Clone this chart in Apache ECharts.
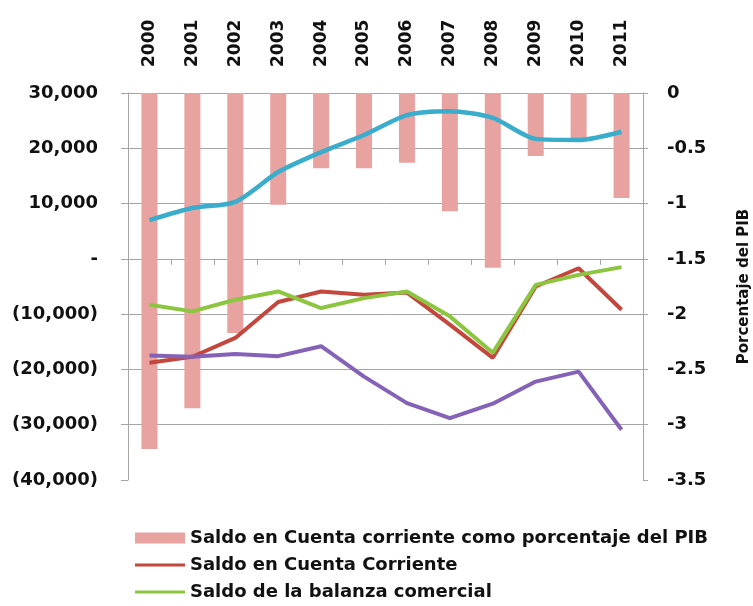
<!DOCTYPE html>
<html>
<head>
<meta charset="utf-8">
<script src="https://cdn.jsdelivr.net/npm/echarts@6/dist/echarts.min.js"></script>
<style>html,body{margin:0;padding:0;background:#fff;}#c{width:753px;height:606px;}</style>
</head>
<body>
<div id="c"></div>
<script>
const years = ['2000','2001','2002','2003','2004','2005','2006','2007','2008','2009','2010','2011'];
const pctPIB = [-3.22, -2.85, -2.17, -1.01, -0.68, -0.68, -0.63, -1.07, -1.58, -0.57, -0.42, -0.95];
const cuentaCorriente = [-18800, -17700, -14300, -7800, -5900, -6500, -6100, -11900, -17900, -5000, -1700, -9200];
const balanzaComercial = [-8300, -9500, -7400, -5900, -8900, -7100, -5900, -10400, -17000, -4700, -2900, -1500];
const serieAzul = [7000, 9200, 10300, 15700, 19300, 22400, 26000, 26700, 25500, 21700, 21500, 23000];
const serieMorada = [-17500, -17700, -17200, -17600, -15800, -21300, -26100, -28800, -26200, -22200, -20400, -30900];
const leftTicks = {min: -40000, max: 30000, interval: 10000};
const rightTicks = {min: -3.5, max: 0, interval: 0.5};
const names = ['Saldo en Cuenta corriente como porcentaje del PIB', 'Saldo en Cuenta Corriente', 'Saldo de la balanza comercial'];

const FONT = 'DejaVu Sans';
const grayLine = '#a6a6a6';
function fmtLeft(v){
  if (v === 0) return '-';
  const s = Math.abs(v).toLocaleString('en-US');
  return v < 0 ? '(' + s + ')' : s;
}
const lineIcon = 'path://M0,0 L50,0 L50,3 L0,3 Z';
const chart = echarts.init(document.getElementById('c'), null, {renderer: 'canvas'});
chart.setOption({
  animation: false,
  backgroundColor: '#ffffff',
  grid: {left: 128, right: 110, top: 93, bottom: 126, containLabel: false, outerBoundsMode: 'none'},
  legend: {
    data: [
      {name: names[0], icon: 'rect'},
      {name: names[1], icon: lineIcon},
      {name: names[2], icon: lineIcon}
    ],
    orient: 'vertical',
    left: 135, top: 529, padding: 0,
    itemWidth: 50, itemHeight: 11, itemGap: 9, symbolKeepAspect: true,
    textStyle: {fontFamily: FONT, fontWeight: 'bold', fontSize: 18, lineHeight: 18, color: '#111'}
  },
  xAxis: [
    {
      type: 'category', data: years, position: 'bottom',
      axisLine: {onZero: true, onZeroAxisIndex: 0, lineStyle: {color: grayLine, width: 1}},
      axisTick: {show: true, length: 6, lineStyle: {color: grayLine}},
      axisLabel: {show: false},
      splitLine: {show: false}
    },
    {
      type: 'category', data: years, position: 'top',
      axisLine: {show: false}, axisTick: {show: false},
      axisLabel: {rotate: 90, margin: 26, padding: [6, 0, 0, 0], fontFamily: FONT, fontWeight: 'bold', fontSize: 17, color: '#111'}
    }
  ],
  yAxis: [
    {
      type: 'value', position: 'left',
      min: leftTicks.min, max: leftTicks.max, interval: leftTicks.interval,
      axisLine: {show: true, lineStyle: {color: grayLine}},
      axisTick: {show: true, length: 7, lineStyle: {color: grayLine}},
      splitLine: {show: true, showMinLine: false, lineStyle: {color: grayLine, width: 1}},
      axisLabel: {formatter: fmtLeft, margin: 30, fontFamily: FONT, fontWeight: 'bold', fontSize: 18, color: '#111'}
    },
    {
      type: 'value', position: 'right',
      min: rightTicks.min, max: rightTicks.max, interval: rightTicks.interval,
      name: 'Porcentaje del PIB', nameLocation: 'middle', nameGap: 94, nameRotate: 90,
      nameTextStyle: {fontFamily: FONT, fontWeight: 'bold', fontSize: 15, color: '#111'},
      axisLine: {show: true, lineStyle: {color: grayLine}},
      axisTick: {show: true, length: 5, lineStyle: {color: grayLine}},
      splitLine: {show: false},
      axisLabel: {margin: 24, fontFamily: FONT, fontWeight: 'bold', fontSize: 18, color: '#111'}
    }
  ],
  series: [
    {
      name: names[0], type: 'bar', xAxisIndex: 0, yAxisIndex: 1, data: pctPIB,
      barWidth: 16, itemStyle: {color: '#e8a2a0'}, z: 1
    },
    {
      name: names[1], type: 'line', xAxisIndex: 0, yAxisIndex: 0, data: cuentaCorriente,
      symbol: 'none', lineStyle: {color: '#c4473d', width: 4}, itemStyle: {color: '#c4473d'}, z: 3
    },
    {
      name: names[2], type: 'line', xAxisIndex: 0, yAxisIndex: 0, data: balanzaComercial,
      symbol: 'none', lineStyle: {color: '#8cc540', width: 4}, itemStyle: {color: '#8cc540'}, z: 4
    },
    {
      name: 'Serie azul', type: 'line', xAxisIndex: 0, yAxisIndex: 0, data: serieAzul,
      symbol: 'none', smooth: 0.25, lineStyle: {color: '#3aaccc', width: 4.5}, itemStyle: {color: '#3aaccc'}, z: 3
    },
    {
      name: 'Serie morada', type: 'line', xAxisIndex: 0, yAxisIndex: 0, data: serieMorada,
      symbol: 'none', lineStyle: {color: '#8462b8', width: 4}, itemStyle: {color: '#8462b8'}, z: 3
    }
  ]
});
</script>
</body>
</html>
